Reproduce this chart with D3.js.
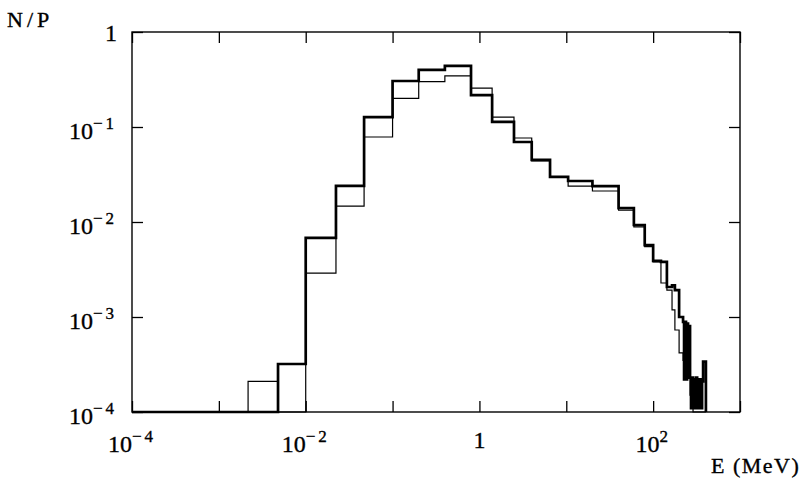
<!DOCTYPE html>
<html>
  <head>
    <meta charset="utf-8">
    <title>N/P vs E (MeV)</title>
    <script src="https://cdn.jsdelivr.net/npm/d3@7/dist/d3.min.js"></script>
    <style>
      body { margin: 0; background: #fff; }
      svg text { font-family: "Liberation Serif", "DejaVu Serif", serif; fill: #000; stroke: #000; stroke-width: 0.35; }
    </style>
  </head>

  <body>
    <svg id="chart" width="807" height="484"></svg>

    <script>
      // bin edges (MeV), shared by both histograms
      const binEdges = [1e-4, 0.00217, 0.0048, 0.01, 0.0223, 0.047, 0.1, 0.2, 0.4, 0.8,
        1.4, 2.5, 4.0, 6.5, 10.5, 20, 40, 60, 80, 100,
        123, 144, 165, 178, 199, 221,
        227, 233, 239, 246, 252, 259, 266,
        273, 281, 288, 296, 304, 312, 321, 329, 338, 347, 357, 366, 376, 405];

      // thick histogram, N/P per bin (0 = empty)
      const thickValues = [0, 0, 3.2e-4, 6.8e-3, 2.4e-2, 0.127, 0.305, 0.40, 0.44,
        0.217, 0.113, 0.0695, 0.045, 0.0298, 0.027, 0.0239, 0.0140, 0.0093, 0.0057,
        3.9e-3, 3.8e-3, 2.07e-3, 2.16e-3, 1.92e-3, 1.0e-3,
        8.9e-4, 2.2e-4, 8.9e-4, 2.2e-4, 8.5e-4, 2.3e-4, 8.0e-4,
        2.3e-4, 1.1e-4, 2.3e-4, 1.1e-4, 2.2e-4, 1.1e-4, 2.3e-4, 1.1e-4, 2.2e-4,
        1.1e-4, 2.2e-4, 1.1e-4, 2.1e-4, 3.4e-4];

      // thin histogram
      const thinValues = [0, 2.1e-4, 0, 2.9e-3, 1.47e-2, 0.0785, 0.20, 0.30, 0.345,
        0.257, 0.127, 0.0766, 0.044, 0.0295, 0.0239, 0.0212, 0.0133, 0.0089, 0.0055,
        3.8e-3, 2.28e-3, 1.92e-3, 1.19e-3, 7.3e-4, 4.2e-4,
        3.5e-4, 3.5e-4, 3.5e-4, 2.5e-4, 2.5e-4, 2.5e-4, 2.5e-4,
        1.5e-4, 1.5e-4, 1.5e-4, 0, 0, 0, 0, 0, 0,
        0, 0, 0, 0, 0];

      // axes
      const xTicks = [1e-4, 1e-3, 1e-2, 1e-1, 1, 1e1, 1e2, 1e3];
      const xLabelValues = [1e-4, 1e-2, 1, 1e2];
      const xLabelExps = ["−4", "−2", "", "2"];
      const yTicks = [1e-4, 1e-3, 1e-2, 1e-1, 1];
      const yLabelExps = ["−4", "−3", "−2", "−1", ""];

      const svg = d3.select("#chart");
      const frame = { left: 132, right: 740, top: 32, bottom: 412 };
      const yFloor = 1e-4;

      const x = d3.scaleLog()
        .domain([1e-4, 1e3])
        .range([frame.left, frame.right]);
      const y = d3.scaleLog()
        .domain([1e-4, 1])
        .range([frame.bottom, frame.top]);

      // ticks on all four sides, pointing inward
      const tickLen = 11;
      svg.append("g")
        .attr("transform", "translate(0," + frame.bottom + ")")
        .call(d3.axisBottom(x).tickValues(xTicks).tickSize(-tickLen).tickSizeOuter(0).tickFormat(""));
      svg.append("g")
        .attr("transform", "translate(0," + frame.top + ")")
        .call(d3.axisTop(x).tickValues(xTicks).tickSize(-tickLen).tickSizeOuter(0).tickFormat(""));
      svg.append("g")
        .attr("transform", "translate(" + frame.left + ",0)")
        .call(d3.axisLeft(y).tickValues(yTicks).tickSize(-tickLen).tickSizeOuter(0).tickFormat(""));
      svg.append("g")
        .attr("transform", "translate(" + frame.right + ",0)")
        .call(d3.axisRight(y).tickValues(yTicks).tickSize(-tickLen).tickSizeOuter(0).tickFormat(""));
      svg.selectAll(".domain").remove();
      svg.selectAll(".tick line")
        .attr("stroke", "#000")
        .attr("stroke-width", 1.3);

      // frame
      svg.append("rect")
        .attr("x", frame.left)
        .attr("y", frame.top)
        .attr("width", frame.right - frame.left)
        .attr("height", frame.bottom - frame.top)
        .attr("fill", "none")
        .attr("stroke", "#000")
        .attr("stroke-width", 1.4);

      // histogram outlines
      function stepPoints(values) {
        const pts = values.map(function(v, i) {
          return [binEdges[i], Math.max(v, yFloor)];
        });
        pts.push([binEdges[binEdges.length - 1], Math.max(values[values.length - 1], yFloor)]);
        pts.push([binEdges[binEdges.length - 1], yFloor]);
        return pts;
      }
      const step = d3.line()
        .x(function(d) { return x(d[0]); })
        .y(function(d) { return y(d[1]); })
        .curve(d3.curveStepAfter);

      svg.append("path")
        .attr("d", step(stepPoints(thickValues)))
        .attr("fill", "none")
        .attr("stroke", "#000")
        .attr("stroke-width", 2.7)
        .attr("stroke-linejoin", "miter");
      svg.append("path")
        .attr("d", step(stepPoints(thinValues)))
        .attr("fill", "none")
        .attr("stroke", "#000")
        .attr("stroke-width", 1.2)
        .attr("stroke-linejoin", "miter");

      // tick labels with superscripts
      function powerLabel(sel, exp) {
        if (exp === "") {
          sel.text("1");
          return;
        }
        sel.append("tspan").text("10");
        sel.append("tspan")
          .attr("dy", -10)
          .attr("font-size", 17)
          .attr("letter-spacing", 3)
          .text(exp);
      }

      xLabelValues.forEach(function(v, i) {
        const t = svg.append("text")
          .attr("x", x(v))
          .attr("y", frame.bottom + (xLabelExps[i] === "" ? 36 : 40))
          .attr("text-anchor", "middle")
          .attr("font-size", 24);
        powerLabel(t, xLabelExps[i]);
      });

      yTicks.forEach(function(v, i) {
        const t = svg.append("text")
          .attr("x", 117)
          .attr("y", y(v) + (yLabelExps[i] === "" ? 9 : 12))
          .attr("text-anchor", "end")
          .attr("font-size", 24);
        powerLabel(t, yLabelExps[i]);
      });

      // axis titles
      svg.append("text")
        .attr("x", 7)
        .attr("y", 27)
        .attr("font-size", 22)
        .attr("letter-spacing", 4)
        .text("N/P");
      svg.append("text")
        .attr("x", 711)
        .attr("y", 473)
        .attr("font-size", 22)
        .attr("letter-spacing", 1.5)
        .text("E (MeV)");
    </script>
  </body>
</html>
